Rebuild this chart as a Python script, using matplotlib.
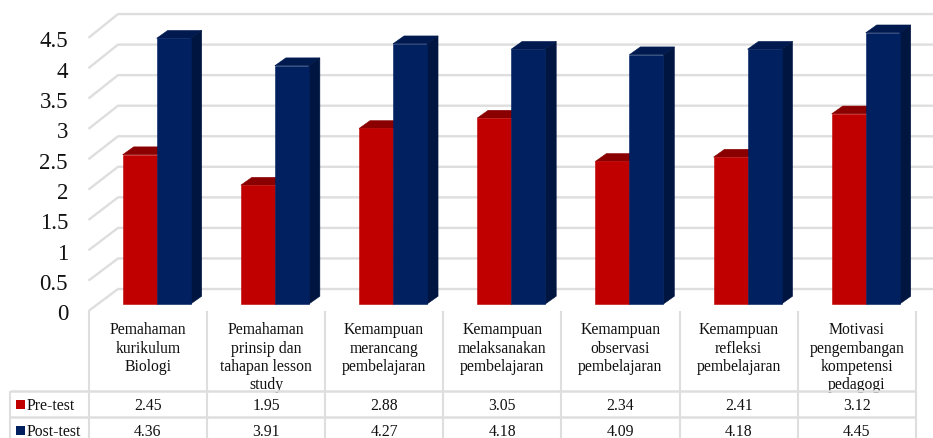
"""
Pre-test / post-test scores per aspect, 3D-look column chart with data table.
"""
import matplotlib
matplotlib.use('Agg')
import matplotlib.pyplot as plt
from matplotlib.patches import Polygon, Rectangle

categories = ['Pemahaman\nkurikulum\nBiologi',
              'Pemahaman\nprinsip dan\ntahapan lesson\nstudy',
              'Kemampuan\nmerancang\npembelajaran',
              'Kemampuan\nmelaksanakan\npembelajaran',
              'Kemampuan\nobservasi\npembelajaran',
              'Kemampuan\nrefleksi\npembelajaran',
              'Motivasi\npengembangan\nkompetensi\npedagogi']
pre_test = [2.45, 1.95, 2.88, 3.05, 2.34, 2.41, 3.12]
post_test = [4.36, 3.91, 4.27, 4.18, 4.09, 4.18, 4.45]
y_ticks = [0, 0.5, 1, 1.5, 2, 2.5, 3, 3.5, 4, 4.5]
y_tick_labels = ['0', '0.5', '1', '1.5', '2', '2.5', '3', '3.5', '4', '4.5']
series_names = ['Pre-test', 'Post-test']

W, H = 933, 439
X0, PX_X = 156.7, 118.17   # pixel of x=0, pixels per category
Y0, PX_Y = 305.0, 60.95    # pixel of value 0, pixels per unit
DEPTH_X, DEPTH_Y = 11.0, 7.8

RED, RED_TOP = '#C00000', '#8A0000'
NAVY, NAVY_TOP, NAVY_SIDE = '#002060', '#001A50', '#001540'
GRID = '#DEDEDE'
SERIF = 'Liberation Serif'

fig = plt.figure(figsize=(W / 100, H / 100), dpi=100)

# pixel axes for grid and table, value axes for the bars
px = fig.add_axes([0, 0, 1, 1])
px.set_xlim(0, W)
px.set_ylim(H, 0)
px.axis('off')

ax = fig.add_axes([0, 0, 1, 1])
ax.set_xlim(-X0 / PX_X, (W - X0) / PX_X)
ax.set_ylim((Y0 - H) / PX_Y, Y0 / PX_Y)
ax.axis('off')
ax.patch.set_alpha(0)

# walls and gridlines
for v, lab in zip(y_ticks, y_tick_labels):
    front = 312 - v * 60.7
    back = 290 - v * 61.1
    px.plot([88.5, 118, W], [front, back, back], color=GRID, lw=1.7, solid_capstyle='butt')
    px.text(68, front + 0.5, lab, ha='right', va='center_baseline', family=SERIF, fontsize=16.5, color='#111111')

dx = DEPTH_X / PX_X
dy = DEPTH_Y / PX_Y
bar_w = 34 / PX_X


def draw_series(values, offset, face, top, side=None):
    bars = ax.bar([i + offset for i in range(len(values))], values, width=bar_w,
                  align='edge', color=face, edgecolor=face, linewidth=0.4, zorder=3)
    for b in bars:
        x, w, h = b.get_x(), b.get_width(), b.get_height()
        ax.add_patch(Polygon([(x, h), (x + dx, h + dy), (x + w + dx, h + dy), (x + w, h)],
                             closed=True, facecolor=top, edgecolor=top, lw=0.4, zorder=2.9))
        if side:
            ax.add_patch(Polygon([(x + w, 0), (x + w + dx, dy), (x + w + dx, h + dy), (x + w, h)],
                                 closed=True, facecolor=side, edgecolor=side, lw=0.4, zorder=2.9))


draw_series(pre_test, -bar_w, RED, RED_TOP)
draw_series(post_test, 0, NAVY, NAVY_TOP, NAVY_SIDE)
# navy goes in front of the red neighbour
for p in ax.patches[len(pre_test) * 2:]:
    p.set_zorder(p.get_zorder() + 1)

# data table
col_edges = [88.7 + i * 118.17 for i in range(len(categories) + 1)]
row_y = [392, 418]
row_text_y = [406, 432.5]
for i, cat in enumerate(categories):
    cx = (col_edges[i] + col_edges[i + 1]) / 2
    px.text(cx, 322.5, cat, ha='center', va='top', family=SERIF, fontsize=11.3,
            linespacing=1.17, color='#111111')
    px.text(cx, row_text_y[0], f'{pre_test[i]:.2f}', ha='center', va='center',
            family=SERIF, fontsize=11.3, color='#111111')
    px.text(cx, row_text_y[1], f'{post_test[i]:.2f}', ha='center', va='center',
            family=SERIF, fontsize=11.3, color='#111111')

for x in col_edges:
    px.plot([x, x], [312, H], color=GRID, lw=1.5, solid_capstyle='butt', zorder=4)
px.plot([10, 10], [392, H], color=GRID, lw=1.5, solid_capstyle='butt', zorder=4)
for y in row_y:
    px.plot([10, col_edges[-1]], [y, y], color=GRID, lw=1.8, solid_capstyle='butt', zorder=4)

for name, color, y in zip(series_names, [RED, NAVY], row_text_y):
    px.add_patch(Rectangle((16, y - 5), 9, 9, facecolor=color, lw=0))
    px.text(27, y, name, ha='left', va='center', family=SERIF, fontsize=11.3, color='#111111')

fig.savefig('out.png', dpi=100)
plt.close(fig)
